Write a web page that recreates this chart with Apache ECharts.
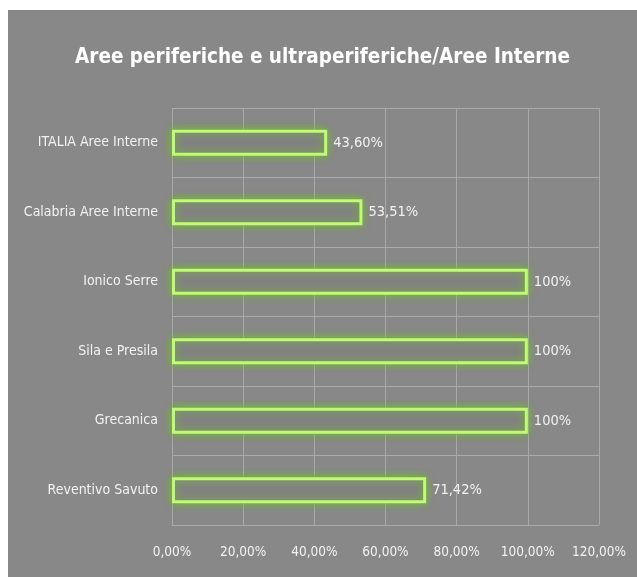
<!DOCTYPE html>
<html>
<head>
<meta charset="utf-8">
<script src="https://cdn.jsdelivr.net/npm/echarts@6/dist/echarts.min.js"></script>
<style>
  html, body { margin: 0; padding: 0; background: #fff; }
  #main { position: absolute; left: 8px; top: 10px; width: 629px; height: 567px; }
</style>
</head>
<body>
<div id="main"></div>
<script>
// categories, top to bottom
let categories = ['ITALIA Aree Interne', 'Calabria Aree Interne', 'Ionico Serre', 'Sila e Presila', 'Grecanica', 'Reventivo Savuto'];
let values = [43.60, 53.51, 100, 100, 100, 71.42];
let tickValues = [0, 20, 40, 60, 80, 100, 120];

let fontFam = '"Liberation Sans Narrow", "DejaVu Sans Condensed", sans-serif';

function pct(v, digits) {
    return v.toFixed(digits).replace('.', ',') + '%';
}

let chart = echarts.init(document.getElementById('main'));
let option = {
    backgroundColor: '#888888',
    animation: false,
    title: {
        text: 'Aree periferiche e ultraperiferiche/Aree Interne',
        left: 'center',
        top: 32,
        textStyle: {
            color: '#ffffff',
            fontFamily: fontFam,
            fontWeight: 'bold',
            fontSize: 20.5
        }
    },
    grid: {
        left: 164,
        right: 38,
        top: 98,
        bottom: 52
    },
    xAxis: {
        type: 'value',
        min: tickValues[0],
        max: tickValues[tickValues.length - 1],
        interval: 20,
        axisLine: { show: false },
        axisTick: { show: false },
        splitLine: { lineStyle: { color: '#a9a9a9', width: 1 } },
        axisLabel: {
            color: '#f2f2f2',
            fontFamily: fontFam,
            fontSize: 13.5,
            margin: 20,
            formatter: function (v) { return pct(v, 2); }
        }
    },
    yAxis: {
        type: 'category',
        inverse: true,
        data: categories,
        axisLine: { show: false },
        axisTick: { show: false },
        splitLine: { show: true, lineStyle: { color: '#a9a9a9', width: 1 } },
        axisLabel: {
            color: '#f2f2f2',
            fontFamily: fontFam,
            fontSize: 14,
            margin: 14
        }
    },
    series: [
        {
            type: 'bar',
            data: values,
            barWidth: 26,
            itemStyle: {
                color: '#828282',
                borderColor: '#c2fa78',
                borderWidth: 3,
                shadowColor: 'rgba(110,200,30,0.95)',
                shadowBlur: 9
            },
            label: {
                show: true,
                position: 'right',
                distance: 6,
                color: '#f2f2f2',
                fontFamily: fontFam,
                fontSize: 14.5,
                formatter: function (p) {
                    return p.value === 100 ? '100%' : pct(p.value, 2);
                }
            }
        }
    ]
};
option && chart.setOption(option);
</script>
</body>
</html>
